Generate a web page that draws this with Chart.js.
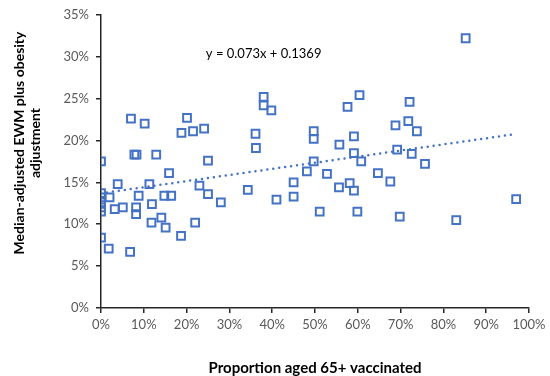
<!DOCTYPE html>
<html>
<head>
<meta charset="utf-8">
<script src="https://cdn.jsdelivr.net/npm/chart.js@4"></script>
<style>
  html, body { margin: 0; background: #fff; }
  #wrap { width: 550px; height: 376px; }
</style>
</head>
<body>
<div id="wrap"><canvas id="chart"></canvas></div>
<script>
// Proportion aged 65+ vaccinated (%) and median-adjusted EWM (%) per point
const vaccinated = [0, 0, 0, 0, 0, 0, 0,
  1.8, 2.0, 3.2, 3.9, 5.1, 6.8, 7.0, 7.8, 8.3, 8.2, 8.2, 8.8, 10.2, 11.3, 11.8, 11.9, 12.9,
  14.1, 14.8, 15.1, 15.9, 16.4, 18.7, 18.8, 20.1, 21.5, 22.0, 23.0, 24.1, 25.0, 25.0, 28.0,
  34.3, 36.1, 36.2, 38.0, 38.0, 39.8, 41.0, 45.0, 45.0, 48.1, 49.7, 49.7, 49.7, 51.1, 52.8,
  55.6, 55.7, 57.6, 58.1, 59.1, 59.1, 59.1, 59.9, 60.4, 60.8, 64.7, 67.6, 68.8, 69.2, 69.8,
  71.8, 72.1, 72.6, 73.8, 75.7, 83.0, 85.2, 97.0];
const ewm = [17.5, 13.7, 13.2, 12.6, 12.0, 11.5, 8.4,
  7.1, 13.2, 11.8, 14.8, 12.0, 6.7, 22.6, 18.3, 18.3, 12.0, 11.2, 13.4, 22.0, 14.8, 10.2, 12.4, 18.3,
  10.8, 13.4, 9.6, 16.1, 13.4, 8.6, 20.9, 22.7, 21.1, 10.2, 14.6, 21.4, 17.6, 13.6, 12.6,
  14.1, 20.8, 19.1, 25.2, 24.2, 23.6, 12.95, 15.0, 13.3, 16.3, 21.1, 20.2, 17.5, 11.5, 16.0,
  14.4, 19.5, 24.0, 14.9, 20.5, 18.5, 14.0, 11.5, 25.4, 17.5, 16.1, 15.1, 21.8, 18.9, 10.9,
  22.3, 24.6, 18.4, 21.1, 17.2, 10.5, 32.2, 13.0];

// linear trendline y = 0.073x + 0.1369, over the range of x
const trendX = [0, 97];
const trendY = [13.69, 20.77];
const equation = 'y = 0.073x + 0.1369';
const yTitle = ['Median-adjusted EWM plus obesity', 'adjustment'];

const blue = '#4472C4';
const axisColor = '#262626';
const tickColor = '#595959';

const points = vaccinated.map((x, i) => ({ x: x, y: ewm[i] }));
const trend = trendX.map((x, i) => ({ x: x, y: trendY[i] }));

// draws the equation label and the two-line y axis title
const extras = {
  id: 'extras',
  afterDraw(chart) {
    const { ctx, scales } = chart;
    ctx.save();
    ctx.fillStyle = '#000';
    ctx.textAlign = 'center';
    ctx.textBaseline = 'middle';
    ctx.font = '13px Lato';
    ctx.fillText(equation, scales.x.getPixelForValue(38), scales.y.getPixelForValue(30.35));

    ctx.translate(27, 143);
    ctx.rotate(-Math.PI / 2);
    ctx.font = 'bold 14px Lato';
    ctx.fillText(yTitle[0], 0, -8);
    ctx.fillText(yTitle[1], 0, 8);
    ctx.restore();
  }
};

new Chart(document.getElementById('chart'), {
  type: 'scatter',
  data: {
    datasets: [{
      label: 'EWM',
      data: points,
      pointStyle: 'rect',
      pointRadius: 5.5,
      pointBorderWidth: 2,
      pointBorderColor: blue,
      pointBackgroundColor: 'rgba(0,0,0,0)'
    }, {
      label: 'Linear trend',
      type: 'line',
      data: trend,
      borderColor: blue,
      borderWidth: 2.5,
      borderDash: [0, 6],
      borderCapStyle: 'round',
      pointRadius: 0,
      fill: false
    }]
  },
  options: {
    responsive: true,
    maintainAspectRatio: false,
    animation: false,
    layout: { padding: { top: 7, right: 21, bottom: 0, left: 0 } },
    plugins: {
      legend: { display: false },
      tooltip: { enabled: false }
    },
    scales: {
      x: {
        type: 'linear',
        min: 0,
        max: 100,
        afterFit(s) { s.height = 68; },
        ticks: {
          stepSize: 10,
          color: tickColor,
          font: { family: 'Lato', size: 13 },
          padding: 4,
          callback: v => v + '%'
        },
        grid: { drawOnChartArea: false, drawTicks: true, tickLength: 5, color: axisColor, lineWidth: 1.5 },
        border: { color: axisColor, width: 1.5 },
        title: {
          display: true,
          text: 'Proportion aged 65+ vaccinated',
          color: '#000',
          font: { family: 'Lato', size: 15, weight: 'bold' },
          padding: { top: 0, bottom: -1 }
        }
      },
      y: {
        min: 0,
        max: 35,
        afterFit(s) { s.width = 101; },
        ticks: {
          stepSize: 5,
          color: tickColor,
          font: { family: 'Lato', size: 13 },
          padding: 7,
          callback: v => v + '%'
        },
        grid: { drawOnChartArea: false, drawTicks: true, tickLength: 5, color: axisColor, lineWidth: 1.5 },
        border: { color: axisColor, width: 1.5 }
      }
    }
  },
  plugins: [extras]
});
</script>
</body>
</html>
